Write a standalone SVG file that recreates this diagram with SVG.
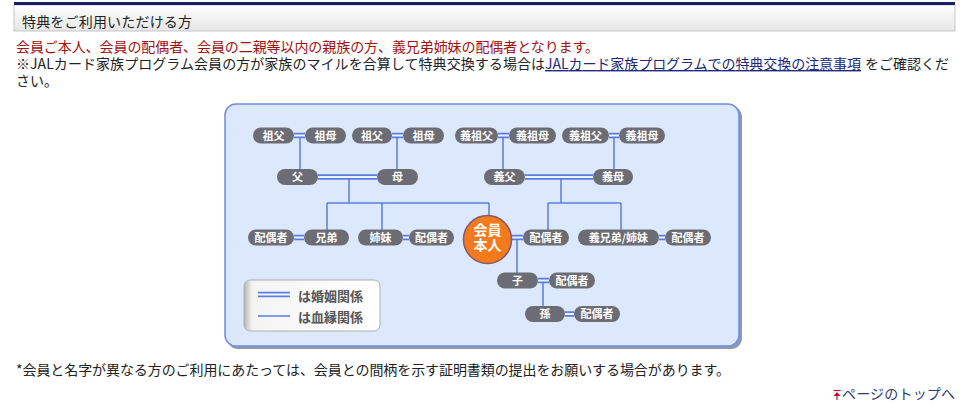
<svg xmlns="http://www.w3.org/2000/svg" width="968" height="416" viewBox="0 0 968 416">
<style>
.t{font-family:"Noto Sans CJK JP","Noto Sans",sans-serif;font-size:14px;fill:#222}
.red{fill:#a50f0f}
.lnk{fill:#20287a;text-decoration:underline}
.top{fill:#2e3a6e}
.pill{fill:#6c6c74}
.nl{font-family:"Noto Sans CJK JP",sans-serif;font-size:11px;font-weight:bold;fill:#fff;text-anchor:middle}
.bl{stroke:#5b7ce0;stroke-width:1.5;fill:none}
.mo{stroke:#5b7ce0;stroke-width:5.5;fill:none}
.mi{stroke:#eef4ff;stroke-width:2;fill:none}
.lg{font-family:"Noto Sans CJK JP",sans-serif;font-size:13px;font-weight:bold;fill:#555}
</style>
<defs>
<linearGradient id="hdr" x1="0" y1="0" x2="0" y2="1">
<stop offset="0" stop-color="#ffffff"/>
<stop offset="1" stop-color="#e6e6e6"/>
</linearGradient>
<linearGradient id="leg" x1="0" y1="0" x2="1" y2="0">
<stop offset="0" stop-color="#b5b5b5"/>
<stop offset="0.06" stop-color="#f4f4f4"/>
<stop offset="1" stop-color="#ffffff"/>
</linearGradient>
</defs>
<rect width="968" height="416" fill="#ffffff"/>
<!-- header -->
<rect x="14" y="5" width="941" height="26" fill="url(#hdr)" stroke="#c6c6c6" stroke-width="1"/>
<rect x="14" y="2" width="941" height="3" fill="#1b1f66"/>
<text class="t" x="22" y="27" textLength="170">特典をご利用いただける方</text>
<!-- intro paragraph -->
<text class="t"><tspan class="red" x="16" y="52" textLength="583">会員ご本人、会員の配偶者、会員の二親等以内の親族の方、義兄弟姉妹の配偶者となります。</tspan><tspan x="16" y="69" textLength="529">※JALカード家族プログラム会員の方が家族のマイルを合算して特典交換する場合は</tspan><tspan class="lnk" x="545" y="69" textLength="316">JALカード家族プログラムでの特典交換の注意事項</tspan><tspan x="865" y="69" textLength="84">をご確認くだ</tspan><tspan x="16" y="86">さい。</tspan></text>
<!-- panel -->
<rect x="227" y="106" width="515" height="243" rx="11" fill="#8d98b2"/>
<rect x="225" y="104" width="514" height="242" rx="11" fill="#dce8fc" stroke="#6f8fe0" stroke-width="1.5"/>
<!-- connectors -->
<g id="connectors">
<path class="bl" d="M300 137.5V169 M397 137.5V169 M503 137.5V169 M614 137.5V169 M349 179V203 M327 203H489 M327 203V230 M382 203V230 M489 203V216 M561 179V203 M548 203H621 M548 203V230 M621 203V230 M517 239.5V273 M543 282.5V306"/>
<path class="mo" d="M294 135.5H305 M392 135.5H403 M498 135.5H509 M609 135.5H619 M318 177H377 M525 177H593 M294 237.5H304 M403 237.5H409 M511 237.5H523 M659 237.5H665 M538 280.5H549 M565 314H574"/>
<path class="mi" d="M294 135.5H305 M392 135.5H403 M498 135.5H509 M609 135.5H619 M318 177H377 M525 177H593 M294 237.5H304 M403 237.5H409 M511 237.5H523 M659 237.5H665 M538 280.5H549 M565 314H574"/>
</g>
<!-- row 1 -->
<g id="n1"><rect class="pill" x="253" y="127.5" width="41" height="16" rx="8"/><text class="nl" x="273.5" y="139.5">祖父</text></g>
<g id="n2"><rect class="pill" x="305" y="127.5" width="41" height="16" rx="8"/><text class="nl" x="325.5" y="139.5">祖母</text></g>
<g id="n3"><rect class="pill" x="352" y="127.5" width="40" height="16" rx="8"/><text class="nl" x="372" y="139.5">祖父</text></g>
<g id="n4"><rect class="pill" x="403" y="127.5" width="41" height="16" rx="8"/><text class="nl" x="423.5" y="139.5">祖母</text></g>
<g id="n5"><rect class="pill" x="455" y="127.5" width="43" height="16" rx="8"/><text class="nl" x="476.5" y="139.5">義祖父</text></g>
<g id="n6"><rect class="pill" x="509" y="127.5" width="47" height="16" rx="8"/><text class="nl" x="532.5" y="139.5">義祖母</text></g>
<g id="n7"><rect class="pill" x="562" y="127.5" width="47" height="16" rx="8"/><text class="nl" x="585.5" y="139.5">義祖父</text></g>
<g id="n8"><rect class="pill" x="619" y="127.5" width="46" height="16" rx="8"/><text class="nl" x="642" y="139.5">義祖母</text></g>
<!-- row 2 -->
<g id="n9"><rect class="pill" x="277" y="169" width="41" height="16" rx="8"/><text class="nl" x="297.5" y="181">父</text></g>
<g id="n10"><rect class="pill" x="377" y="169" width="41" height="16" rx="8"/><text class="nl" x="397.5" y="181">母</text></g>
<g id="n11"><rect class="pill" x="484" y="169" width="41" height="16" rx="8"/><text class="nl" x="504.5" y="181">義父</text></g>
<g id="n12"><rect class="pill" x="593" y="169" width="40" height="16" rx="8"/><text class="nl" x="613" y="181">義母</text></g>
<!-- row 3 -->
<g id="n13"><rect class="pill" x="248" y="229.5" width="46" height="16" rx="8"/><text class="nl" x="271" y="241.5">配偶者</text></g>
<g id="n14"><rect class="pill" x="304" y="229.5" width="45" height="16" rx="8"/><text class="nl" x="326.5" y="241.5">兄弟</text></g>
<g id="n15"><rect class="pill" x="358" y="229.5" width="45" height="16" rx="8"/><text class="nl" x="380.5" y="241.5">姉妹</text></g>
<g id="n16"><rect class="pill" x="409" y="229.5" width="45" height="16" rx="8"/><text class="nl" x="431.5" y="241.5">配偶者</text></g>
<g id="member"><circle cx="487.5" cy="239.5" r="24" fill="#f47a1e" stroke="#86586a" stroke-width="1.5"/><text class="nl" style="font-size:14px"><tspan x="487.5" y="235">会員</tspan><tspan x="487.5" y="250">本人</tspan></text></g>
<g id="n17"><rect class="pill" x="523" y="229.5" width="46" height="16" rx="8"/><text class="nl" x="546" y="241.5">配偶者</text></g>
<g id="n18"><rect class="pill" x="578" y="229.5" width="81" height="16" rx="8"/><text class="nl" x="618.5" y="241.5">義兄弟/姉妹</text></g>
<g id="n19"><rect class="pill" x="665" y="229.5" width="46" height="16" rx="8"/><text class="nl" x="688" y="241.5">配偶者</text></g>
<!-- row 4 -->
<g id="n20"><rect class="pill" x="497" y="272.5" width="41" height="16" rx="8"/><text class="nl" x="517.5" y="284.5">子</text></g>
<g id="n21"><rect class="pill" x="549" y="272.5" width="46" height="16" rx="8"/><text class="nl" x="572" y="284.5">配偶者</text></g>
<!-- row 5 -->
<g id="n22"><rect class="pill" x="525" y="306" width="40" height="16" rx="8"/><text class="nl" x="545" y="318">孫</text></g>
<g id="n23"><rect class="pill" x="574" y="306" width="46" height="16" rx="8"/><text class="nl" x="597" y="318">配偶者</text></g>
<!-- legend -->
<g id="legend">
<rect x="244" y="280" width="136" height="51" rx="6" fill="url(#leg)" stroke="#b0b0b0" stroke-width="1"/>
<path class="mo" d="M258 294.5H290"/>
<path class="mi" d="M258 294.5H290" style="stroke:#fafafa"/>
<path class="bl" d="M258 316H290"/>
<text class="lg" x="298" y="301">は婚姻関係</text>
<text class="lg" x="298" y="322">は血縁関係</text>
</g>
<!-- footnote -->
<text class="t" x="16" y="375" textLength="714">*会員と名字が異なる方のご利用にあたっては、会員との間柄を示す証明書類の提出をお願いする場合があります。</text>
<g id="pagetop">
<path d="M833.5 390.5H840.5" stroke="#c8102e" stroke-width="1.2"/>
<path d="M837 392L833.5 396H840.5Z" fill="#c8102e"/>
<path d="M837 395V400" stroke="#c8102e" stroke-width="1.2"/>
<text class="t top" x="842" y="399" textLength="113">ページのトップへ</text>
</g>
</svg>
